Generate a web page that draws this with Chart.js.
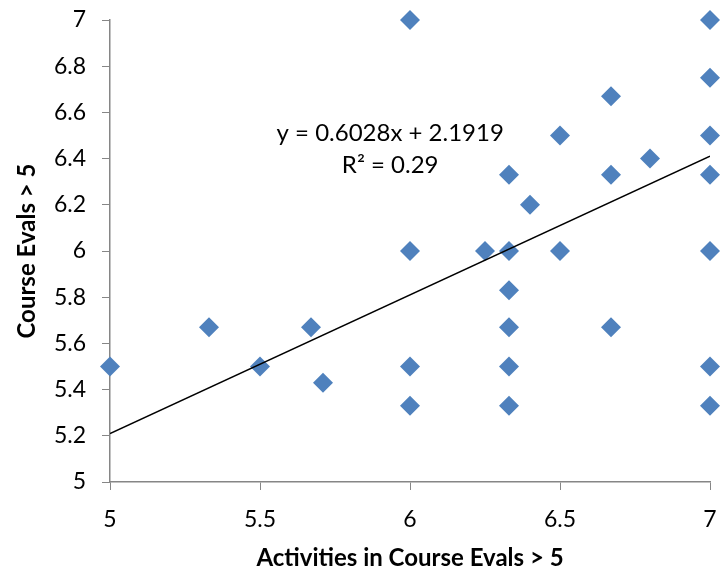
<!DOCTYPE html>
<html>
<head>
<meta charset="utf-8">
<script src="https://cdn.jsdelivr.net/npm/chart.js@4/dist/chart.umd.min.js"></script>
<style>
  html, body { margin: 0; padding: 0; background: #fff; }
  #wrap { width: 723px; height: 570px; }
</style>
</head>
<body>
<div id="wrap"><canvas id="chart" width="723" height="570"></canvas></div>
<script>
const activities = [5, 5.33, 5.5, 5.67, 5.71, 6, 6, 6, 6, 6.25, 6.33, 6.33, 6.33, 6.33, 6.33, 6.33,
  6.4, 6.5, 6.5, 6.67, 6.67, 6.67, 6.8, 7, 7, 7, 7, 7, 7, 7];
const courseEvals = [5.5, 5.67, 5.5, 5.67, 5.43, 7, 6, 5.5, 5.33, 6, 6.33, 6, 5.83, 5.67, 5.5, 5.33,
  6.2, 6.5, 6, 6.67, 6.33, 5.67, 6.4, 7, 6.75, 6.5, 6.33, 6, 5.5, 5.33];
const trendX = [5, 7];
const trendY = [5.21, 6.41];
const equationLines = ["y = 0.6028x + 2.1919", "R² = 0.29"];

const FONT = "Lato, 'Noto Sans', sans-serif";
const AXIS_GRAY = "#868686";

const fmt = (v) => String(Math.round(v * 10) / 10);

const equationLabel = {
  id: "equationLabel",
  afterDatasetsDraw(chart) {
    const ctx = chart.ctx;
    const x = chart.scales.x.getPixelForValue(5.934);
    ctx.save();
    ctx.font = "24px " + FONT;
    ctx.fillStyle = "#000";
    ctx.textAlign = "center";
    ctx.textBaseline = "middle";
    ctx.fillText(equationLines[0], x, chart.scales.y.getPixelForValue(6.511));
    ctx.fillText(equationLines[1], x, chart.scales.y.getPixelForValue(6.372));
    ctx.restore();
  }
};

new Chart(document.getElementById("chart"), {
  type: "scatter",
  data: {
    datasets: [
      {
        label: "Course Evals",
        data: activities.map((a, i) => ({ x: a, y: courseEvals[i] })),
        pointStyle: "rectRot",
        pointRadius: 10,
        pointHoverRadius: 10,
        backgroundColor: "#4F81BD",
        borderColor: "#4F81BD",
        borderWidth: 0,
        clip: false,
        order: 2,
      },
      {
        type: "line",
        label: "Trend",
        data: trendX.map((a, i) => ({ x: a, y: trendY[i] })),
        borderColor: "#000",
        borderWidth: 1.5,
        pointRadius: 0,
        fill: false,
        order: 1,
      },
    ],
  },
  options: {
    responsive: false,
    animation: false,
    layout: { padding: { top: 20, right: 13, left: 0, bottom: 0 } },
    plugins: {
      legend: { display: false },
      tooltip: { enabled: false },
    },
    scales: {
      x: {
        type: "linear",
        min: 5,
        max: 7,
        ticks: {
          stepSize: 0.5,
          color: "#000",
          font: { family: FONT, size: 23 },
          padding: 16,
          callback: fmt,
        },
        grid: { drawOnChartArea: false, tickLength: 8, color: AXIS_GRAY },
        border: { color: AXIS_GRAY, width: 1.5 },
        title: {
          display: true,
          text: "Activities in Course Evals > 5",
          color: "#000",
          font: { family: FONT, size: 24, weight: "bold" },
          padding: { top: 10, bottom: -3 },
        },
        afterFit(scale) {
          scale.height = 88;
          scale.paddingLeft = 0;
          scale.paddingRight = 0;
        },
      },
      y: {
        type: "linear",
        min: 5,
        max: 7,
        ticks: {
          stepSize: 0.2,
          color: "#000",
          font: { family: FONT, size: 23 },
          padding: 16,
          callback: fmt,
        },
        grid: { drawOnChartArea: false, tickLength: 8, color: AXIS_GRAY },
        border: { color: AXIS_GRAY, width: 1.5 },
        title: {
          display: true,
          text: "Course Evals > 5",
          color: "#000",
          font: { family: FONT, size: 24, weight: "bold" },
          padding: { top: 13, bottom: 4 },
        },
        afterFit(scale) {
          scale.width = 110;
          scale.paddingTop = 0;
          scale.paddingBottom = 0;
        },
      },
    },
  },
  plugins: [equationLabel],
});
</script>
</body>
</html>
